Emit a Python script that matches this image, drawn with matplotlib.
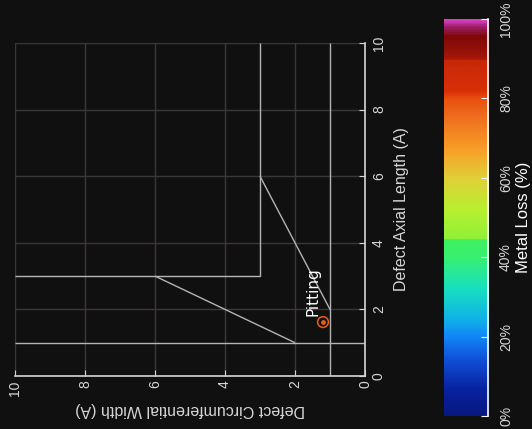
import numpy as np
import matplotlib
matplotlib.use('Agg')
import matplotlib.pyplot as plt
from matplotlib.colors import LinearSegmentedColormap

plt.rcParams['font.family'] = ['Liberation Sans', 'DejaVu Sans']

#Background and text colours
bg = '#111010'
fg = '#d6d6d6'
grid_col = '#3a3836'
line_col = '#b4b4b4'

#Class boundary lines (circumferential width W, axial length L)
full_w_W = [1, 1]
full_w_L = [0, 10]
full_l_W = [0, 10]
full_l_L = [1, 1]
box_W = [10, 3, 3]
box_L = [3, 3, 10]
diag1_W = [3, 1]
diag1_L = [6, 2]
diag2_W = [6, 2]
diag2_L = [3, 1]

#Defect
defect_W = [1.2]
defect_L = [1.62]
defect_loss = [78]
defect_label = 'Pitting'

ticks = [0, 2, 4, 6, 8, 10]
cb_ticks = [0, 20, 40, 60, 80, 100]
cb_labels = ['0%', '20%', '40%', '60%', '80%', '100%']

#Colour scale stops (percent, colour)
cmap_pos = [0, 6.5, 14, 20, 24, 32, 40, 44.4, 44.6, 52, 60, 67, 75, 80, 82, 89.8, 90.2, 93, 96, 98.5, 100]
cmap_cols = ['#081880', '#0822a0', '#1050d8', '#1088f8', '#10b0e8', '#18e0c0', '#38f070', '#40f060',
             '#90f038', '#b8f030', '#e0d038', '#f8a028', '#f07020', '#e85010', '#d83008', '#c82808',
             '#a81808', '#901008', '#800808', '#a02070', '#d840c0']
cmap = LinearSegmentedColormap.from_list('loss', [(p / 100, c) for p, c in zip(cmap_pos, cmap_cols)])

fig = plt.figure(figsize=(5.32, 4.29), dpi=100, facecolor=bg)
ax = fig.add_axes([15 / 532, 1 - 376 / 429, 350 / 532, 333 / 429], facecolor=bg)

ax.set_xlim(10, 0)
ax.set_ylim(0, 10)
ax.set_xticks(ticks)
ax.set_yticks(ticks)
ax.grid(True, color=grid_col, linewidth=1)
ax.set_axisbelow(True)

for W, L in [(full_w_W, full_w_L), (full_l_W, full_l_L), (box_W, box_L),
             (diag1_W, diag1_L), (diag2_W, diag2_L)]:
    ax.plot(W, L, color=line_col, linewidth=1, solid_capstyle='butt')

dcol = cmap(np.array(defect_loss) / 100)
ax.scatter(defect_W, defect_L, s=60, facecolors='none', edgecolors=dcol, linewidths=1.1, zorder=5)
ax.scatter(defect_W, defect_L, s=6, color=dcol, zorder=6)
ax.text(defect_W[0] + 0.28, defect_L[0] + 0.9, defect_label, rotation=90, color='white',
        fontsize=11, family='DejaVu Sans', ha='center', va='center')

for s in ['top', 'left']:
    ax.spines[s].set_visible(False)
for s in ['bottom', 'right']:
    ax.spines[s].set_color(fg)
    ax.spines[s].set_linewidth(1.2)

ax.yaxis.tick_right()
ax.yaxis.set_label_position('right')
ax.tick_params(axis='both', direction='in', length=4, color=fg, labelcolor=fg, labelsize=10)
ax.tick_params(axis='x', labelrotation=90, pad=3)
ax.tick_params(axis='y', labelrotation=90, pad=5)
for t in ax.get_yticklabels():
    t.set_va('center')
for t in ax.get_xticklabels():
    t.set_ha('center')
    t.set_va('top')
ax.set_xlabel('Defect Circumferential Width (A)', color=fg, fontsize=11.5, rotation=180, labelpad=5)
ax.set_ylabel('Defect Axial Length (A)', color=fg, fontsize=11.5, rotation=90, labelpad=6)

#Colour bar
cax = fig.add_axes([444 / 532, 1 - 416 / 429, 44 / 532, 397 / 429], facecolor=bg)
grad = np.linspace(0, 100, 400).reshape(-1, 1)
cax.imshow(grad, aspect='auto', cmap=cmap, extent=[0, 1, 0, 100], origin='lower', vmin=0, vmax=100)
cax.set_xlim(0, 1)
cax.set_ylim(0, 100)
cax.set_xticks([])
cax.set_yticks(cb_ticks)
cax.set_yticklabels(cb_labels)
for s in ['top', 'left', 'bottom']:
    cax.spines[s].set_visible(False)
cax.spines['right'].set_color('white')
cax.spines['right'].set_linewidth(1.2)
cax.yaxis.tick_right()
cax.yaxis.set_label_position('right')
cax.tick_params(axis='y', direction='in', length=5, color='white', labelcolor=fg, labelsize=10,
                labelrotation=90, pad=8)
for t in cax.get_yticklabels():
    t.set_va('center')
cax.set_ylabel('Metal Loss (%)', color='white', fontsize=12, rotation=90, labelpad=2)

fig.savefig('out.png', dpi=100, facecolor=bg)
